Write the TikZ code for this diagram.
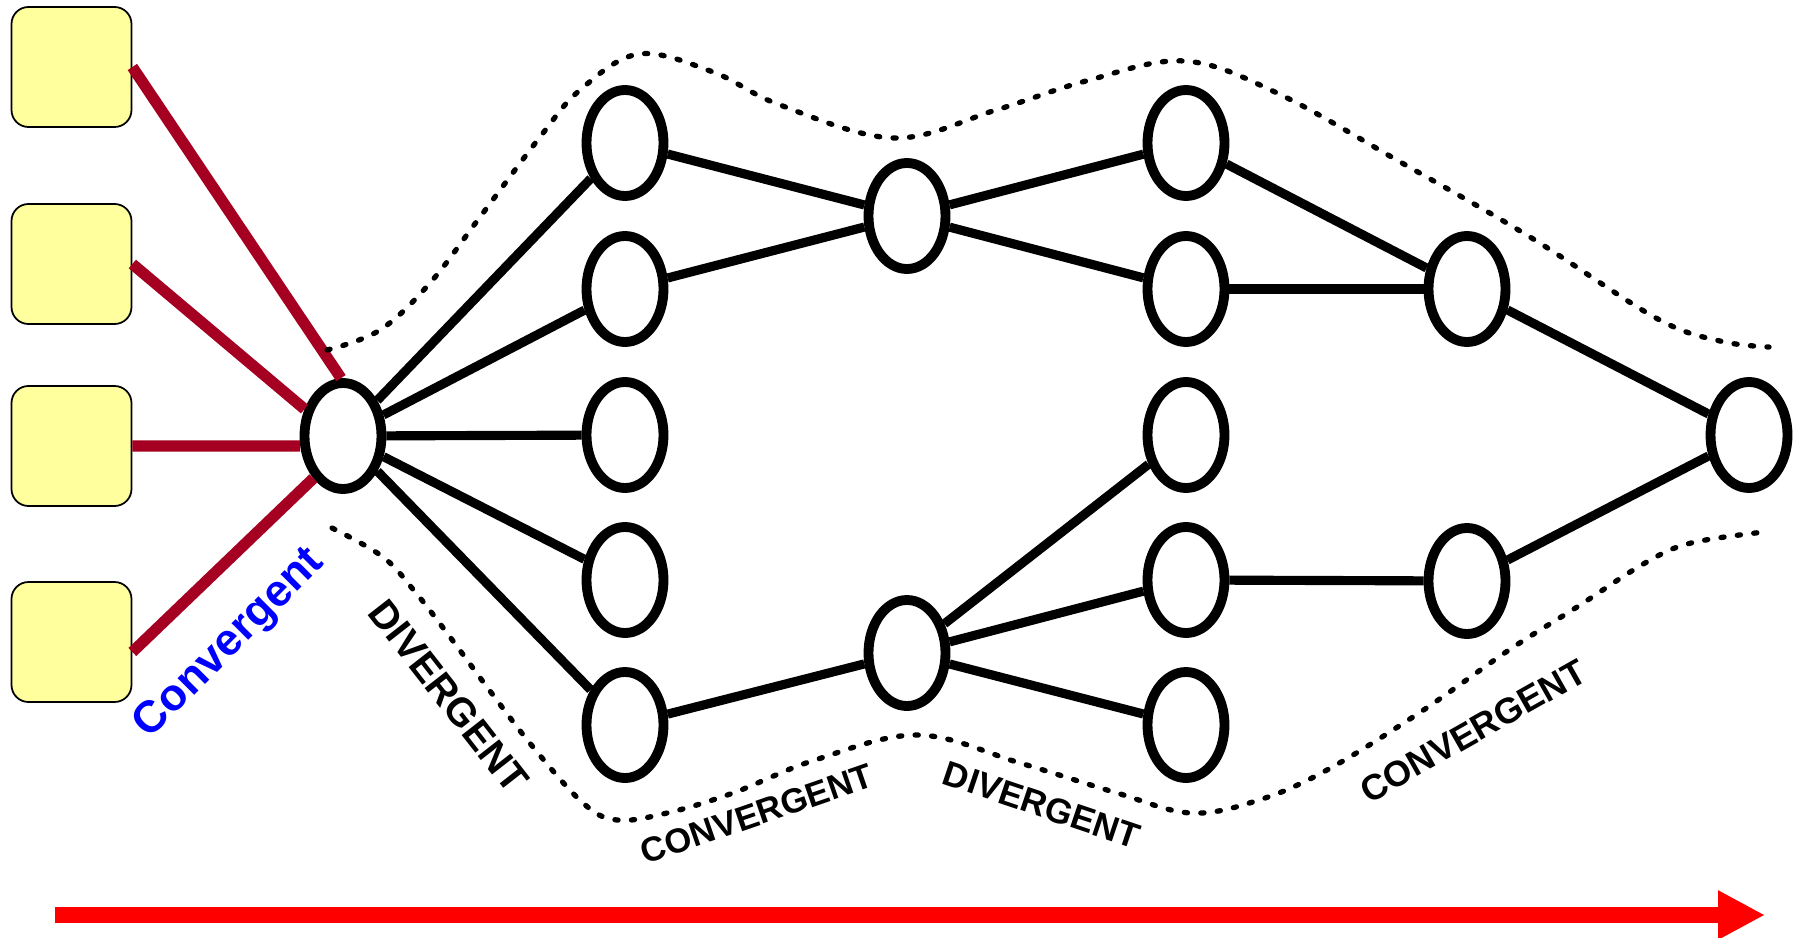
\documentclass[tikz,border=0pt]{standalone}
\usepackage{fontspec}
\setmainfont{Liberation Sans}
\usetikzlibrary{shapes.geometric,arrows.meta}
\definecolor{padyellow}{RGB}{255,255,158}
\definecolor{wine}{RGB}{165,0,33}
\definecolor{flowred}{RGB}{255,0,0}

\begin{document}
\begin{tikzpicture}
	\tikzstyle{source} = [ draw, rectangle, rounded corners=0.17cm, fill=padyellow, minimum size=1.2cm, line width=0.5pt ];
	\tikzstyle{vertex} = [ draw, ellipse, line width=2.8pt, fill=white, minimum width=0.77cm, minimum height=1.06cm, inner sep=0pt ];
	\tikzstyle{link} = [ line width=2.6pt ];
	\tikzstyle{feed} = [ line width=3.2pt, color=wine ];
	\tikzstyle{hull} = [ line width=1.5pt, line cap=round, dash pattern=on 0.9pt off 3.8pt ];
	\tikzstyle{phase} = [ inner sep=0pt ];
	\tikzstyle{timeline} = [ line width=0.16cm, color=flowred, -{Triangle[length=0.47cm,width=0.46cm]} ];

	\useasboundingbox (0,0) rectangle (18.04,9.37);

	\foreach \y [count=\yi] in {8.70, 6.73, 4.91, 2.95} {
		\node[source] (s\yi) at (0.715,\y) {};
	}

	\node[vertex] (h) at (3.43,5.01) {};
	\foreach \y [count=\yi] in {7.94, 6.48, 5.02, 3.57, 2.12} {
		\node[vertex] (a\yi) at (6.25,\y) {};
		\node[vertex] (c\yi) at (11.86,\y) {};
	}
	\node[vertex] (b1) at (9.07,7.21) {};
	\node[vertex] (b2) at (9.07,2.84) {};
	\node[vertex] (d1) at (14.67,6.48) {};
	\node[vertex] (d2) at (14.67,3.56) {};
	\node[vertex] (e) at (17.49,5.02) {};

	\foreach \i in {1,...,5} {
		\draw[link] (h) -- (a\i);
	}
	\draw[link] (a1) -- (b1);
	\draw[link] (a2) -- (b1);
	\draw[link] (a5) -- (b2);
	\draw[link] (b1) -- (c1);
	\draw[link] (b1) -- (c2);
	\draw[link] (b2) -- (c3);
	\draw[link] (b2) -- (c4);
	\draw[link] (b2) -- (c5);
	\draw[link] (c1) -- (d1);
	\draw[link] (c2) -- (d1);
	\draw[link] (c4) -- (d2);
	\draw[link] (d1) -- (e);
	\draw[link] (d2) -- (e);

	\draw[feed] (s1.east) -- (h.92);
	\draw[feed] (s2.east) -- (h.145);
	\draw[feed] (s3.east) -- (h.193);
	\draw[feed] ([yshift=-0.1cm]s4.east) -- (h.235);

	\draw[hull] plot[smooth, tension=0.6] coordinates {
		(3.27,5.87) (3.80,6.07) (4.30,6.54) (4.80,7.20) (5.40,8.00) (5.80,8.47)
		(6.39,8.83) (7.13,8.65) (7.80,8.32) (8.94,7.99) (9.96,8.27) (10.86,8.56)
		(11.84,8.76) (12.77,8.44) (14.02,7.74) (15.30,7.00) (16.56,6.19)
		(17.20,5.96) (17.69,5.90) };
	\draw[hull] plot[smooth, tension=0.6] coordinates {
		(3.32,4.09) (3.83,3.80) (4.16,3.44) (4.50,3.00) (4.87,2.50) (5.33,1.90)
		(5.83,1.34) (6.17,1.17) (6.67,1.24) (7.33,1.44) (8.15,1.77) (9.18,2.02)
		(10.20,1.74) (11.17,1.44) (11.91,1.24) (12.59,1.37) (13.27,1.67)
		(14.19,2.24) (15.09,2.87) (15.77,3.30) (16.45,3.74) (16.91,3.94) (17.64,4.05) };

	\node[phase, rotate=45, text=blue, font={\fontsize{12.7}{15}\selectfont\bfseries}] (conv0) at (2.30,2.93) {Convergent};
	\node[phase, rotate=-52, font={\fontsize{11.3}{13}\selectfont\bfseries}] (div1) at (4.49,2.41) {DIVERGENT};
	\node[phase, rotate=19, font={\fontsize{9.8}{11}\selectfont\bfseries}] (conv1) at (7.57,1.23) {CONVERGENT};
	\node[phase, rotate=-18.6, font={\fontsize{10}{12}\selectfont\bfseries}] (div2) at (10.42,1.32) {DIVERGENT};
	\node[phase, rotate=29.5, font={\fontsize{10.2}{12}\selectfont\bfseries}] (conv2) at (14.73,2.06) {CONVERGENT};

	\coordinate (t0) at (0.55,0.22);
	\coordinate (t1) at (17.65,0.22);
	\draw[timeline] (t0) -- (t1);
\end{tikzpicture}
\end{document}
